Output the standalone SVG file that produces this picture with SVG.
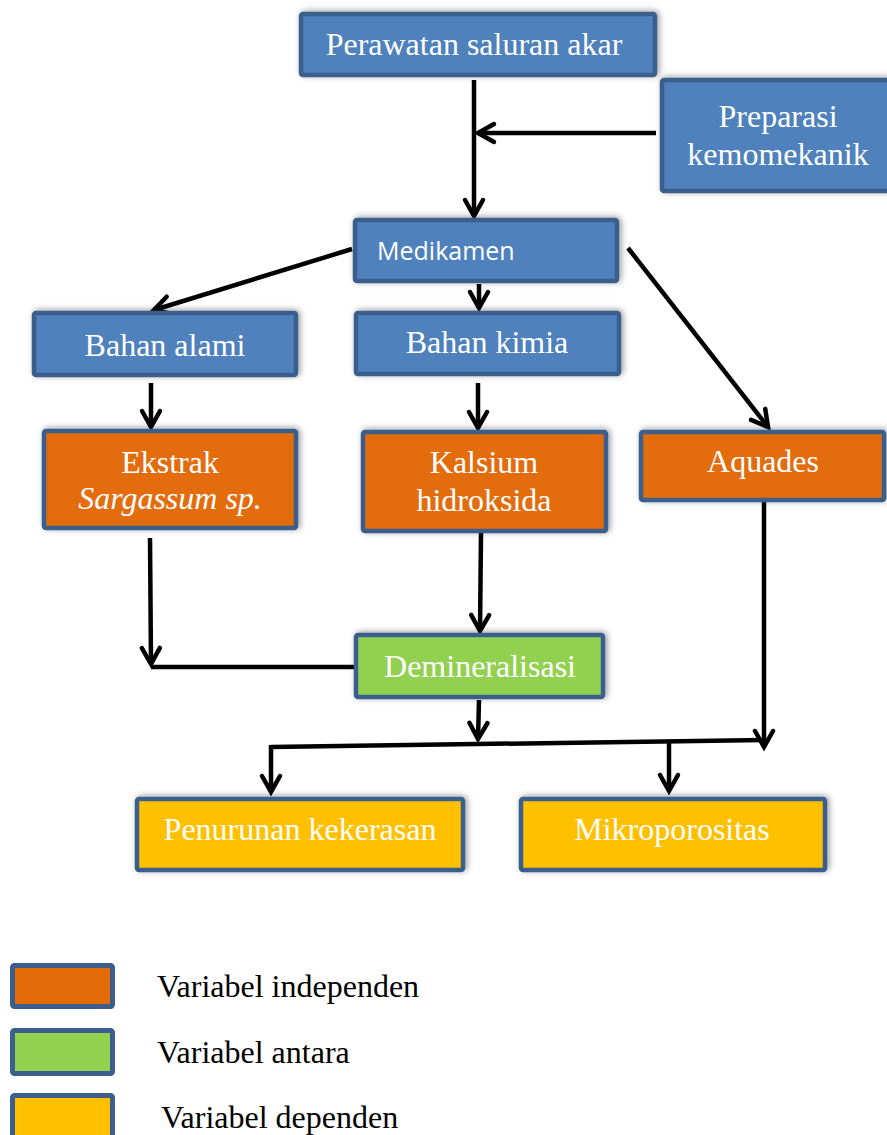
<svg xmlns="http://www.w3.org/2000/svg" width="887" height="1135" viewBox="0 0 887 1135">
  <style>
    .box { stroke: #3b5e8c; stroke-width: 4.5; filter: url(#sh); }
    .blue { fill: #4f81bd; }
    .orange { fill: #e36c09; }
    .green { fill: #92d050; }
    .yellow { fill: #ffc000; }
    .lbox { stroke: #3b5e8c; stroke-width: 5; }
    .t { font-family: "Liberation Serif", "Times New Roman", serif; font-size: 32px; fill: #ffffff; text-anchor: middle; }
    .ts { font-family: "Open Sans", "Noto Sans", sans-serif; font-size: 25px; fill: #ffffff; }
    .lt { font-family: "Liberation Serif", "Times New Roman", serif; font-size: 32px; fill: #000000; }
    .c { stroke: #000000; stroke-width: 4.5; fill: none; }
    .a { marker-end: url(#arr); }
  </style>
  <defs>
    <filter id="sh" x="-10%" y="-20%" width="120%" height="140%">
      <feDropShadow dx="2" dy="-1" stdDeviation="3" flood-color="#000000" flood-opacity="0.4"/>
    </filter>
    <marker id="arr" markerUnits="userSpaceOnUse" orient="auto" overflow="visible" refX="0" refY="0" markerWidth="20" markerHeight="20">
      <path d="M-16,-9 L0,0 L-16,9" fill="none" stroke="#000000" stroke-width="4.5" stroke-linejoin="miter" stroke-linecap="round"/>
    </marker>
  </defs>

  <g id="connectors">
    <path class="c a" d="M474,80 L474,216"/>
    <path class="c a" d="M656,133 L478,133"/>
    <path class="c a" d="M352,249 L154,310"/>
    <path class="c a" d="M479,284 L479,308"/>
    <path class="c a" d="M628,248 L768,427"/>
    <path class="c a" d="M151,383 L151,427"/>
    <path class="c a" d="M478,383 L478,428"/>
    <path class="c a" d="M150,538 L151,664"/>
    <path class="c" d="M151,667 L356,667"/>
    <path class="c a" d="M481,533 L480,631"/>
    <path class="c a" d="M479,700 L478,739"/>
    <path class="c a" d="M764,502 L764,747"/>
    <path class="c" d="M271,747 L766,740"/>
    <path class="c a" d="M271,745 L271,792"/>
    <path class="c a" d="M669,743 L669,791"/>
  </g>

  <g id="perawatan">
    <rect class="box blue" x="301" y="14" width="354" height="61" rx="2"/>
    <text class="t" x="474" y="55">Perawatan saluran akar</text>
  </g>
  <g id="preparasi">
    <rect class="box blue" x="662" y="80" width="240" height="111" rx="2"/>
    <text class="t" x="778" y="127">Preparasi</text>
    <text class="t" x="778" y="165">kemomekanik</text>
  </g>
  <g id="medikamen">
    <rect class="box blue" x="355" y="220" width="262" height="61" rx="2"/>
    <text class="ts" x="377" y="260">Medikamen</text>
  </g>
  <g id="bahan-alami">
    <rect class="box blue" x="34" y="313" width="262" height="62" rx="2"/>
    <text class="t" x="165" y="356">Bahan alami</text>
  </g>
  <g id="bahan-kimia">
    <rect class="box blue" x="356" y="313" width="263" height="61" rx="2"/>
    <text class="t" x="487" y="353">Bahan kimia</text>
  </g>
  <g id="ekstrak">
    <rect class="box orange" x="44" y="431" width="252" height="97" rx="2"/>
    <text class="t" x="170" y="473">Ekstrak</text>
    <text class="t" x="170" y="509" font-style="italic">Sargassum sp.</text>
  </g>
  <g id="kalsium">
    <rect class="box orange" x="363" y="432" width="243" height="99" rx="2"/>
    <text class="t" x="484" y="473">Kalsium</text>
    <text class="t" x="484" y="511">hidroksida</text>
  </g>
  <g id="aquades">
    <rect class="box orange" x="641" y="432" width="243" height="68" rx="2"/>
    <text class="t" x="763" y="472">Aquades</text>
  </g>
  <g id="demineralisasi">
    <rect class="box green" x="356" y="635" width="247" height="62" rx="2"/>
    <text class="t" x="480" y="677">Demineralisasi</text>
  </g>
  <g id="penurunan">
    <rect class="box yellow" x="137" y="799" width="326" height="71" rx="2"/>
    <text class="t" x="300" y="840">Penurunan kekerasan</text>
  </g>
  <g id="mikroporositas">
    <rect class="box yellow" x="521" y="799" width="304" height="71" rx="2"/>
    <text class="t" x="672" y="840">Mikroporositas</text>
  </g>

  <g id="legend-independen">
    <rect class="lbox orange" x="12.5" y="965.5" width="100" height="41" rx="2"/>
    <text class="lt" x="157" y="997">Variabel independen</text>
  </g>
  <g id="legend-antara">
    <rect class="lbox green" x="12.5" y="1030.5" width="100" height="43" rx="2"/>
    <text class="lt" x="157" y="1063">Variabel antara</text>
  </g>
  <g id="legend-dependen">
    <rect class="lbox yellow" x="12.5" y="1095.5" width="100" height="50" rx="2"/>
    <text class="lt" x="161" y="1128">Variabel dependen</text>
  </g>
</svg>
